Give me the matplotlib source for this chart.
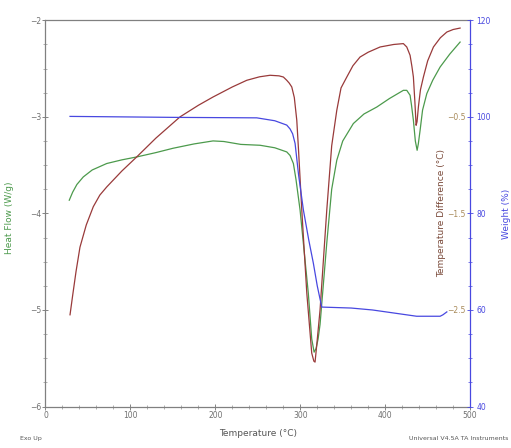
import matplotlib.pyplot as plt
from matplotlib.ticker import MultipleLocator

# Heat flow (W/g) - green, left axis
hf_temp = [28, 32, 37, 44.5, 55, 72.1, 90, 107.4, 130, 150.2, 175, 197.3, 210, 230,
           252.7, 270, 284.1, 288, 291.9, 295, 299.8, 309.5, 313.5, 316.3, 318.6, 321,
           323.3, 331.2, 337, 343, 350, 362.5, 375, 390.1, 405, 421.4, 425.4, 429.3,
           431, 433.2, 435.5, 437.6, 439, 441.1, 444, 449, 456, 464.7, 476, 488.2]
heat_flow = [-3.863, -3.78, -3.70, -3.622, -3.55, -3.483, -3.445, -3.415, -3.37, -3.325,
             -3.28, -3.249, -3.255, -3.285, -3.294, -3.32, -3.363, -3.40, -3.483, -3.65,
             -3.967, -4.829, -5.30, -5.437, -5.40, -5.30, -5.15, -4.308, -3.75, -3.449,
             -3.25, -3.069, -2.97, -2.898, -2.81, -2.725, -2.725, -2.776, -2.88, -3.035,
             -3.25, -3.346, -3.28, -3.139, -2.93, -2.759, -2.62, -2.483, -2.35, -2.225]

# Temperature difference (°C) - dark red
td_temp = [28.9, 32, 36, 40.6, 48, 56.3, 64, 72.1, 90, 107.4, 130, 158.4, 180, 197.3,
           220, 237, 252, 264.4, 275, 280.1, 284.1, 287, 290, 293, 295.9, 298, 301.8,
           307.7, 313.5, 316, 317.4, 319, 323.3, 331.2, 337, 343, 348, 354.8, 362,
           370.4, 380, 394, 410, 421.4, 425.4, 429.3, 431.5, 433.2, 435, 436.4, 437.5,
           439.1, 441.5, 445, 450, 456.8, 465, 472.6, 480, 488.2]
temp_diff = [-2.55, -2.35, -2.1, -1.85, -1.62, -1.43, -1.31, -1.226, -1.06, -0.915,
             -0.72, -0.50, -0.38, -0.294, -0.19, -0.121, -0.085, -0.069, -0.075, -0.087,
             -0.121, -0.15, -0.19, -0.30, -0.535, -0.85, -1.467, -2.326, -2.947, -3.03,
             -3.04, -2.90, -2.50, -1.467, -0.80, -0.432, -0.20, -0.087, 0.03, 0.12, 0.17,
             0.224, 0.25, 0.259, 0.224, 0.138, 0.02, -0.087, -0.35, -0.587, -0.55,
             -0.397, -0.22, -0.087, 0.08, 0.224, 0.32, 0.379, 0.405, 0.42]

# Weight (%) - blue
wt_temp = [28.9, 60, 150, 248.8, 270, 284.1, 288, 291, 293.9, 298, 303.7, 310, 315.4,
           320, 325.3, 360, 385, 413, 437, 464.7, 468, 472.6]
weight = [100.1, 100.05, 99.9, 99.8, 99.2, 98.3, 97.5, 96.5, 94.5, 88, 80.7, 74.5,
          69.7, 65, 60.6, 60.4, 60.0, 59.3, 58.7, 58.7, 59.0, 59.6]

x_ticks = [0, 100, 200, 300, 400, 500]
hf_ticks = [-6, -5, -4, -3, -2]
td_ticks = [-2.5, -1.5, -0.5]
wt_ticks = [40, 60, 80, 100, 120]

green = '#4c9a4c'
red = '#993a3a'
blue = '#4848e0'
grey = '#707070'

fig = plt.figure(figsize=(5.11, 4.48), dpi=100)
ax = fig.add_axes([0.089, 0.0926, 0.831, 0.862])
ax2 = ax.twinx()
ax3 = ax.twinx()

ax.plot(hf_temp, heat_flow, color=green, lw=0.9)
ax2.plot(td_temp, temp_diff, color=red, lw=0.9)
ax3.plot(wt_temp, weight, color=blue, lw=0.9)

ax.set_xlim(0, 500)
ax.set_ylim(-6, -2)
ax2.set_ylim(-3.5, 0.5)
ax3.set_ylim(40, 120)

ax.set_xticks(x_ticks)
ax.xaxis.set_minor_locator(MultipleLocator(20))
ax.set_yticks(hf_ticks)
ax.yaxis.set_minor_locator(MultipleLocator(0.25))
ax.tick_params(axis='both', which='major', labelsize=5.5, colors=grey,
               direction='inout', length=4, width=0.6)
ax.tick_params(axis='both', which='minor', direction='inout', length=2.5,
               width=0.5, colors='#909090')
ax.tick_params(axis='x', pad=1.5)
ax.tick_params(axis='y', pad=1)

for s in ['left', 'bottom', 'top']:
    ax.spines[s].set_color('#808080')
    ax.spines[s].set_linewidth(0.9)
ax.spines['right'].set_visible(False)
ax2.spines['right'].set_visible(False)
for s in ['left', 'bottom', 'top']:
    ax2.spines[s].set_visible(False)
    ax3.spines[s].set_visible(False)
ax3.spines['right'].set_color(blue)
ax3.spines['right'].set_linewidth(0.9)

ax2.set_yticks(td_ticks)
ax2.tick_params(axis='y', length=0, labelsize=5.5, labelcolor='#a88a5a', pad=-3)
for lab in ax2.get_yticklabels():
    lab.set_ha('right')

ax3.set_yticks(wt_ticks)
ax3.yaxis.set_minor_locator(MultipleLocator(5))
ax3.tick_params(axis='y', which='major', labelsize=5.5, colors=blue,
                direction='inout', length=5, width=0.6, pad=2)
ax3.tick_params(axis='y', which='minor', direction='inout', length=3,
                width=0.5, colors=blue)

ax.set_xlabel('Temperature (°C)', fontsize=6.5, color='#555555', labelpad=6)
ax.set_ylabel('Heat Flow (W/g)', fontsize=6.5, color=green)
ax.yaxis.set_label_coords(-0.074, 0.49)
ax2.set_ylabel('Temperature Difference (°C)', fontsize=6.5, color='#7a4a3a')
ax2.yaxis.set_label_coords(0.922, 0.5)
ax3.set_ylabel('Weight (%)', fontsize=6.5, color=blue)
ax3.yaxis.set_label_coords(1.075, 0.5)

fig.text(0.04, 0.018, 'Exo Up', fontsize=4.5, color='#555555')
fig.text(0.995, 0.018, 'Universal V4.5A TA Instruments', fontsize=4.5,
         color='#555555', ha='right')

plt.savefig('out.png', dpi=100)
